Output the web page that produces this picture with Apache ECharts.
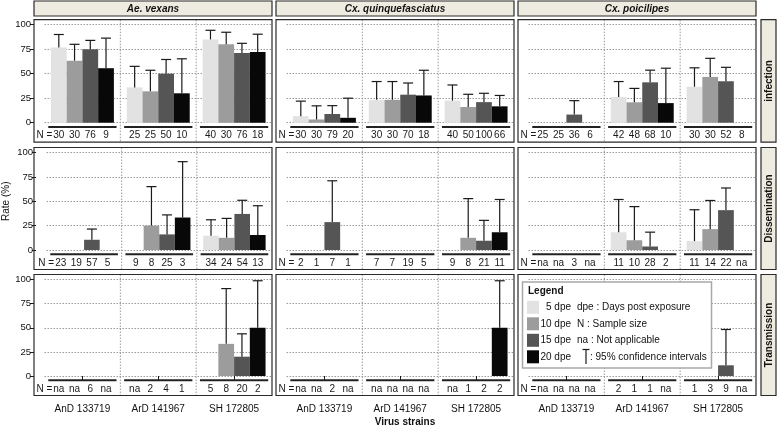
<!DOCTYPE html>
<html><head><meta charset="utf-8">
<script src="https://cdn.jsdelivr.net/npm/echarts@6/dist/echarts.min.js"></script>
<style>html,body{margin:0;padding:0;background:#fff}#c{width:777px;height:433px}</style>
</head><body><div id="c"></div>
<script>
// ---------- categories / labels ----------
const strains = ['AnD 133719', 'ArD 141967', 'SH 172805'];
const species = ['Ae. vexans', 'Cx. quinquefasciatus', 'Cx. poicilipes'];
const stages = ['infection', 'Dissemination', 'Transmission'];
const dpe = ['5 dpe', '10 dpe', '15 dpe', '20 dpe'];
const yTicks = [0, 25, 50, 75, 100];
const legendNotes = ['dpe : Days post exposure', 'N : Sample size', 'na : Not applicable', ': 95% confidence intervals'];

// ---------- values: rows = dpe (5,10,15,20), columns = strains ----------
// Infection
const rateInfAe  = [[76.7, 36, 85], [63.3, 32, 80], [75, 50, 71], [55.6, 30, 72.2]];
const ciInfAe    = [[90, 57.5, 94.3], [80, 53.5, 92.3], [84, 64.5, 81], [86.3, 65.2, 90.3]];
const nInfAe     = [[30, 25, 40], [30, 25, 30], [76, 50, 76], [9, 10, 18]];
const rateInfCxq = [[6.7, 23.3, 22.5], [3.3, 23.3, 16], [8.9, 28.6, 21], [5, 27.8, 16.7]];
const ciInfCxq   = [[22, 42, 38.5], [17.2, 42, 29], [17.4, 40.5, 30], [25, 53.5, 27.8]];
const nInfCxq    = [[30, 30, 40], [30, 30, 50], [79, 70, 100], [20, 18, 66]];
const rateInfCxp = [[null, 26.2, 36.7], [null, 20.8, 46.7], [8.3, 41.2, 42.3], [null, 20, null]];
const ciInfCxp   = [[null, 42, 56], [null, 35, 65.7], [22.5, 53.6, 56.5], [null, 55.6, null]];
const nInfCxp    = [[25, 42, 30], [25, 48, 30], [36, 68, 52], [6, 10, 8]];
// Dissemination
const rateDisAe  = [[null, null, 14.7], [null, 25, 12.5], [10.5, 16, 37], [null, 33.3, 15.4]];
const ciDisAe    = [[null, null, 31], [null, 65, 32.4], [21.5, 36, 51], [null, 90.6, 45.4]];
const nDisAe     = [[23, 9, 34], [19, 8, 24], [57, 25, 54], [5, 3, 13]];
const rateDisCxq = [[null, null, null], [null, null, 12.5], [28.6, null, 9.5], [null, null, 18.2]];
const ciDisCxq   = [[null, null, null], [null, null, 52.7], [71, null, 30.4], [null, null, 51.8]];
const nDisCxq    = [[2, 7, 9], [1, 7, 8], [7, 19, 21], [1, 5, 11]];
const rateDisCxp = [[null, 18.2, 9.1], [null, 10, 21.4], [null, 3.6, 40.9], [null, null, null]];
const ciDisCxp   = [[null, 51.8, 41.3], [null, 44.5, 50.8], [null, 18.3, 63.6], [null, null, null]];
const nDisCxp    = [['na', 11, 11], ['na', 10, 14], [3, 28, 22], ['na', 2, 'na']];
// Transmission
const rateTraAe  = [[null, null, null], [null, null, 33.3], [null, null, 20], [null, null, 50]];
const ciTraAe    = [[null, null, null], [null, null, 90.6], [null, null, 43.7], [null, null, 98.7]];
const nTraAe     = [['na', 'na', 5], ['na', 2, 8], [6, 4, 20], ['na', 1, 2]];
const rateTraCxq = [[null, null, null], [null, null, null], [null, null, null], [null, null, 50]];
const ciTraCxq   = [[null, null, null], [null, null, null], [null, null, null], [null, null, 98.7]];
const nTraCxq    = [['na', 'na', 'na'], ['na', 'na', 1], [2, 'na', 2], ['na', 'na', 2]];
const rateTraCxp = [[null, null, null], [null, null, null], [null, null, 11.1], [null, null, null]];
const ciTraCxp   = [[null, null, null], [null, null, null], [null, null, 48.2], [null, null, null]];
const nTraCxp    = [['na', 2, 1], ['na', 1, 3], ['na', 1, 9], ['na', 'na', 'na']];

const RATES = [[rateInfAe, rateInfCxq, rateInfCxp], [rateDisAe, rateDisCxq, rateDisCxp], [rateTraAe, rateTraCxq, rateTraCxp]];
const CIS   = [[ciInfAe, ciInfCxq, ciInfCxp], [ciDisAe, ciDisCxq, ciDisCxp], [ciTraAe, ciTraCxq, ciTraCxp]];
const NS    = [[nInfAe, nInfCxq, nInfCxp], [nDisAe, nDisCxq, nDisCxp], [nTraAe, nTraCxq, nTraCxp]];

// ---------- layout / style ----------
const FONT = 'Liberation Sans, Arial, sans-serif';
const GAP = 0.17;
const rowY100 = [24.7, 152.5, 279.5];
const rowY0 = [122.7, 250, 376];
const colLeft = [34, 276, 518];
const panelW = 238, padL = 10.5, padTop = 5, padBot = 19.5;
const colors = ['#e2e2e2', '#9c9c9c', '#555555', '#080808'];
const INK = '#1a1a1a';
const STRIP = '#eeebe0';

function barCenter(api, s, j) {
  const band = api.size([1, 0])[0];
  const total = band * (1 - GAP);
  const bw = total / 4;
  return api.coord([s, 0])[0] - total / 2 + bw * (j + 0.5);
}

function errRender(params, api) {
  const s = api.value(0), j = api.value(1), v = api.value(2), up = api.value(3);
  const cx = barCenter(api, s, j);
  const yTop = api.coord([s, v])[1];
  const yUp = api.coord([s, up])[1];
  const st = { stroke: INK, lineWidth: 1.2 };
  return { type: 'group', children: [
    { type: 'line', shape: { x1: cx, y1: yTop, x2: cx, y2: yUp }, style: st },
    { type: 'line', shape: { x1: cx - 5, y1: yUp, x2: cx + 5, y2: yUp }, style: st }
  ]};
}

function makeNRender(labels) {
  return function (params, api) {
    const s = api.value(0), j = api.value(1);
    const cs = params.coordSys;
    const band = api.size([1, 0])[0];
    const y0 = api.coord([s, 0])[1];
    const cx = barCenter(api, s, j);
    const children = [{
      type: 'text',
      style: { text: String(labels[params.dataIndex]), x: cx, y: y0 + 12.8, align: 'center', verticalAlign: 'middle',
               fontSize: 10, fontFamily: FONT, fill: INK }
    }];
    if (j === 0) {
      const c = api.coord([s, 0])[0];
      children.push({ type: 'line', shape: { x1: c - band * 0.45, y1: y0 + 4.3, x2: c + band * 0.45, y2: y0 + 4.3 },
                      style: { stroke: '#222', lineWidth: 2 } });
      if (s === 0) {
        children.push({ type: 'text', style: { text: 'N =', x: cx - 6.5, y: y0 + 12.8, align: 'right', verticalAlign: 'middle',
                        fontSize: 10, fontFamily: FONT, fill: INK } });
      }
      if (s < 2) {
        const xd = c + band / 2;
        children.push({ type: 'line', shape: { x1: xd, y1: cs.y - padTop, x2: xd, y2: cs.y + cs.height + padBot },
                        style: { stroke: '#9a9a9a', lineWidth: 1, lineDash: [1.5, 1.5] } });
      }
    }
    return { type: 'group', children };
  };
}

const grids = [], xAxes = [], yAxes = [], series = [], graphics = [];
for (let r = 0; r < 3; r++) {
  for (let c = 0; c < 3; c++) {
    const g = r * 3 + c;
    grids.push({ left: colLeft[c] + padL, top: rowY100[r], width: panelW - padL, height: rowY0[r] - rowY100[r] });
    xAxes.push({
      type: 'category', gridIndex: g, data: strains, boundaryGap: true, offset: r === 2 ? padBot : 0,
      axisLine: { show: false },
      axisTick: { show: r === 2, alignWithLabel: true, length: 5, lineStyle: { color: INK } },
      axisLabel: { show: r === 2, margin: 9, color: '#111', fontSize: 10, fontFamily: FONT },
      splitLine: { show: false }
    });
    yAxes.push({
      type: 'value', gridIndex: g, min: 0, max: 100, interval: 25, offset: padL,
      axisLine: { show: false },
      axisTick: { show: c === 0, length: 4, lineStyle: { color: INK } },
      axisLabel: { show: c === 0, margin: 3, color: '#111', fontSize: 9.5, fontFamily: FONT },
      splitLine: { show: true, lineStyle: { type: [1.5, 1.5], color: '#9a9a9a', width: 1 } },
      name: (r === 1 && c === 0) ? 'Rate (%)' : '', nameLocation: 'middle', nameGap: 25, nameRotate: 90,
      nameTextStyle: { fontSize: 10, fontFamily: FONT, color: '#111' }
    });
    const rates = RATES[r][c], cis = CIS[r][c], ns = NS[r][c];
    for (let j = 0; j < 4; j++) {
      series.push({
        type: 'bar', name: dpe[j], xAxisIndex: g, yAxisIndex: g, data: rates[j],
        barGap: '0%', barCategoryGap: (GAP * 100) + '%',
        itemStyle: { color: colors[j] }, z: 2
      });
    }
    const errData = [];
    const nData = [], nLabels = [];
    for (let s = 0; s < 3; s++) {
      for (let j = 0; j < 4; j++) {
        if (rates[j][s] != null && cis[j][s] != null) errData.push([s, j, rates[j][s], cis[j][s]]);
        nData.push([s, j]);
        nLabels.push(ns[j][s]);
      }
    }
    series.push({ type: 'custom', xAxisIndex: g, yAxisIndex: g, renderItem: errRender, data: errData, z: 3, clip: false, silent: true });
    series.push({ type: 'custom', xAxisIndex: g, yAxisIndex: g, renderItem: makeNRender(nLabels), data: nData, z: 3, clip: false, silent: true });

    // panel border
    graphics.push({ type: 'rect', shape: { x: colLeft[c], y: rowY100[r] - padTop, width: panelW, height: rowY0[r] - rowY100[r] + padTop + padBot },
                    style: { fill: 'none', stroke: '#2a2a2a', lineWidth: 1.2 }, z: 20, silent: true });
  }
}

// column strips
for (let c = 0; c < 3; c++) {
  graphics.push({ type: 'rect', shape: { x: colLeft[c], y: 1, width: panelW, height: 15 },
                  style: { fill: STRIP, stroke: '#2a2a2a', lineWidth: 1.2 }, z: 20, silent: true });
  graphics.push({ type: 'text', x: colLeft[c] + panelW / 2, y: 8.8,
                  style: { text: species[c], align: 'center', verticalAlign: 'middle', fontSize: 10, fontWeight: 'bold', fontStyle: 'italic', fontFamily: FONT, fill: '#111' }, z: 21, silent: true });
}
// row strips
for (let r = 0; r < 3; r++) {
  const top = rowY100[r] - padTop, h = rowY0[r] - rowY100[r] + padTop + padBot;
  graphics.push({ type: 'rect', shape: { x: 761, y: top, width: 15, height: h },
                  style: { fill: STRIP, stroke: '#2a2a2a', lineWidth: 1.2 }, z: 20, silent: true });
  graphics.push({ type: 'text', x: 768.8, y: top + h / 2, rotation: Math.PI / 2,
                  style: { text: stages[r], align: 'center', verticalAlign: 'middle', fontSize: 10, fontWeight: 'bold', fontFamily: FONT, fill: '#111' }, z: 21, silent: true });
}
// x title
graphics.push({ type: 'text', x: 405, y: 422,
                style: { text: 'Virus strains', align: 'center', verticalAlign: 'middle', fontSize: 10, fontWeight: 'bold', fontFamily: FONT, fill: '#111' }, z: 21, silent: true });

// legend box and notes
graphics.push({ type: 'rect', shape: { x: 522.5, y: 282, width: 189, height: 86 },
                style: { fill: '#fff', stroke: '#a8a8a8', lineWidth: 1.5 }, z: 15, silent: true });
graphics.push({ type: 'text', x: 528, y: 291.5,
                style: { text: 'Legend', align: 'left', verticalAlign: 'middle', fontSize: 10, fontWeight: 'bold', fontFamily: FONT, fill: '#111' }, z: 21, silent: true });
const noteY = [307.3, 323.8, 340.3, 356.8];
for (let k = 0; k < 4; k++) {
  graphics.push({ type: 'text', x: 571, y: noteY[k],
                  style: { text: dpe[k], align: 'right', verticalAlign: 'middle', fontSize: 10, fontFamily: FONT, fill: '#111' }, z: 21, silent: true });
}
for (let k = 0; k < 3; k++) {
  graphics.push({ type: 'text', x: 577, y: noteY[k],
                  style: { text: legendNotes[k], align: 'left', verticalAlign: 'middle', fontSize: 10, fontFamily: FONT, fill: '#111' }, z: 21, silent: true });
}
graphics.push({ type: 'line', shape: { x1: 586, y1: 349.5, x2: 586, y2: 364 }, style: { stroke: INK, lineWidth: 1.2 }, z: 21, silent: true });
graphics.push({ type: 'line', shape: { x1: 582.5, y1: 349.5, x2: 589.5, y2: 349.5 }, style: { stroke: INK, lineWidth: 1.2 }, z: 21, silent: true });
graphics.push({ type: 'text', x: 590, y: noteY[3],
                style: { text: legendNotes[3], align: 'left', verticalAlign: 'middle', fontSize: 10, fontFamily: FONT, fill: '#111' }, z: 21, silent: true });

const chart = echarts.init(document.getElementById('c'), null, { renderer: 'canvas' });
chart.setOption({
  animation: false,
  backgroundColor: '#fff',
  textStyle: { fontFamily: FONT },
  grid: grids,
  xAxis: xAxes,
  yAxis: yAxes,
  legend: {
    data: dpe.map(n => ({ name: n, icon: 'rect' })),
    orient: 'vertical', left: 527, top: 300.8, padding: 0,
    itemWidth: 12, itemHeight: 13, itemGap: 3.5,
    formatter: () => '',
    textStyle: { fontSize: 10, fontFamily: FONT, color: '#111' },
    z: 20
  },
  graphic: { elements: graphics },
  series: series
});
</script>
</body></html>
